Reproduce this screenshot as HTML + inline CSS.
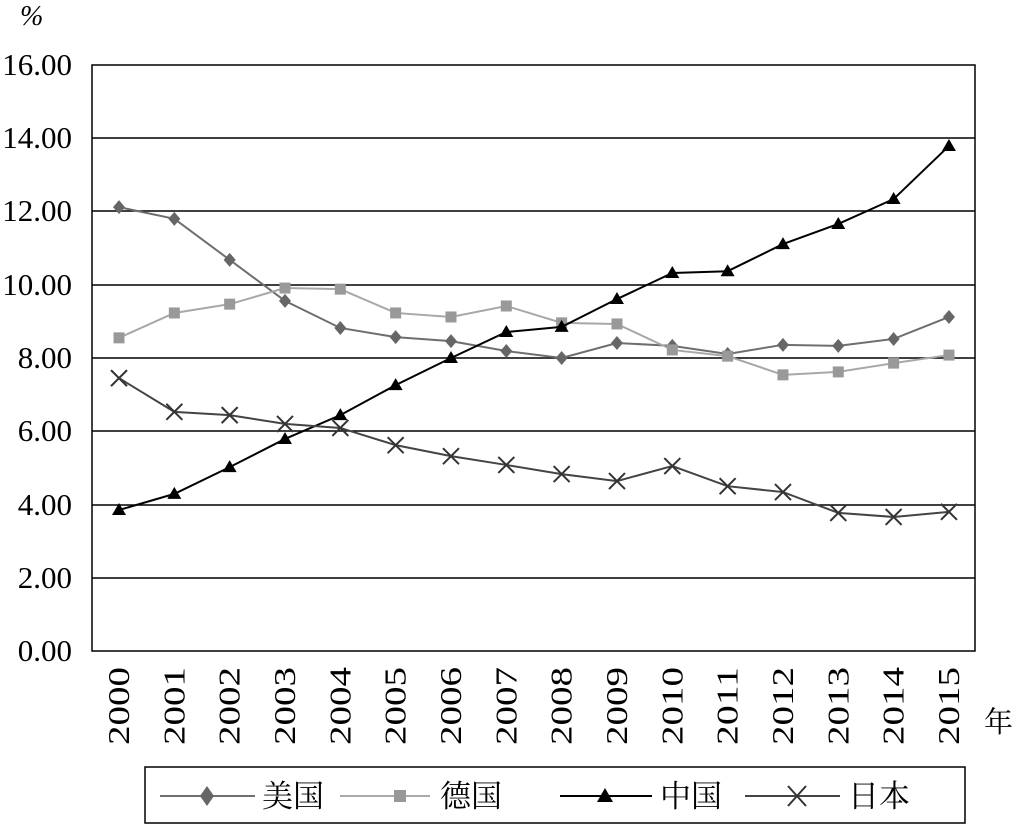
<!DOCTYPE html>
<html><head><meta charset="utf-8"><style>
html,body{margin:0;padding:0;background:#fff;}
svg{display:block;}
text{font-family:"Liberation Serif","Noto Serif CJK SC",serif;fill:#000;}
</style></head><body>
<svg width="1014" height="825" viewBox="0 0 1014 825" xmlns="http://www.w3.org/2000/svg">
<text x="20" y="25" font-size="28" font-style="italic">%</text>
<g stroke="#000" stroke-width="1.5">
<line x1="92" x2="975" y1="138" y2="138"/><line x1="92" x2="975" y1="211" y2="211"/>
<line x1="92" x2="975" y1="285" y2="285"/><line x1="92" x2="975" y1="358" y2="358"/>
<line x1="92" x2="975" y1="431" y2="431"/><line x1="92" x2="975" y1="505" y2="505"/>
<line x1="92" x2="975" y1="578" y2="578"/>
</g>
<rect x="92" y="65" width="883" height="586" fill="none" stroke="#000" stroke-width="1.5"/>
<g font-size="31" text-anchor="end">
<text x="72" y="75">16.00</text><text x="72" y="148">14.00</text><text x="72" y="221">12.00</text>
<text x="72" y="295">10.00</text><text x="72" y="368">8.00</text><text x="72" y="441">6.00</text>
<text x="72" y="515">4.00</text><text x="72" y="588">2.00</text><text x="72" y="661">0.00</text>
</g>
<g font-size="31" id="xl"></g>
<text x="984" y="732" font-size="29">年</text>
<g id="series"></g>
<rect x="145" y="767" width="820" height="56" fill="none" stroke="#000" stroke-width="1.5"/>
<g font-size="31">
<line x1="160" x2="255" y1="796" y2="796" stroke="#707070" stroke-width="2"/>
<polygon points="207,786 214,796 207,806 200,796" fill="#666"/>
<text x="262" y="807">美国</text>
<line x1="340" x2="430" y1="796" y2="796" stroke="#aaa" stroke-width="2"/>
<rect x="394" y="790" width="12" height="12" fill="#999"/>
<text x="440" y="807">德国</text>
<line x1="560" x2="652" y1="796" y2="796" stroke="#000" stroke-width="2"/>
<polygon points="605,788 613,802 597,802" fill="#000"/>
<text x="660" y="807">中国</text>
<line x1="745" x2="840" y1="796" y2="796" stroke="#444" stroke-width="2"/>
<path d="M788,786 L806,806 M806,786 L788,806" stroke="#333" stroke-width="2"/>
<text x="848" y="807">日本</text>
</g>
</svg>
<script>
const ns="http://www.w3.org/2000/svg";
const X=i=>119+i*55.33, Y=v=>651-v*36.625;
const xl=document.getElementById('xl');
for(let i=0;i<16;i++){const t=document.createElementNS(ns,'text');
t.setAttribute('transform',`translate(${X(i)+10},745) rotate(-90)`);
t.setAttribute('textLength','78');t.setAttribute('lengthAdjust','spacingAndGlyphs');
t.textContent=2000+i;xl.appendChild(t);}
const S=[
{c:"#6e6e6e",m:"#666",t:"d",d:[12.12,11.8,10.68,9.56,8.82,8.57,8.46,8.19,8.0,8.41,8.33,8.11,8.36,8.33,8.52,9.12]},
{c:"#a8a8a8",m:"#999",t:"s",d:[8.55,9.23,9.47,9.91,9.88,9.23,9.12,9.42,8.96,8.93,8.22,8.05,7.54,7.62,7.86,8.08]},
{c:"#000",m:"#000",t:"t",d:[3.85,4.29,5.02,5.79,6.44,7.26,8.0,8.71,8.85,9.61,10.32,10.37,11.11,11.66,12.34,13.79]},
{c:"#444",m:"#333",t:"x",d:[7.45,6.53,6.44,6.2,6.09,5.62,5.32,5.08,4.83,4.64,5.05,4.5,4.34,3.77,3.66,3.8]}];
const g=document.getElementById('series');let h="";
for(const s of S){
h+=`<polyline fill="none" stroke="${s.c}" stroke-width="2" points="${s.d.map((v,i)=>X(i)+','+Y(v)).join(' ')}"/>`;
s.d.forEach((v,i)=>{const x=X(i),y=Y(v);
if(s.t=="d")h+=`<polygon points="${x},${y-7} ${x+6},${y} ${x},${y+7} ${x-6},${y}" fill="${s.m}"/>`;
if(s.t=="s")h+=`<rect x="${x-5.5}" y="${y-5.5}" width="11" height="11" fill="${s.m}"/>`;
if(s.t=="t")h+=`<polygon points="${x},${y-7} ${x+7},${y+5} ${x-7},${y+5}" fill="${s.m}"/>`;
if(s.t=="x")h+=`<path d="M${x-8},${y-8} L${x+8},${y+8} M${x+8},${y-8} L${x-8},${y+8}" stroke="${s.m}" stroke-width="2"/>`;
});}
g.innerHTML=h;
</script>
</body></html>
